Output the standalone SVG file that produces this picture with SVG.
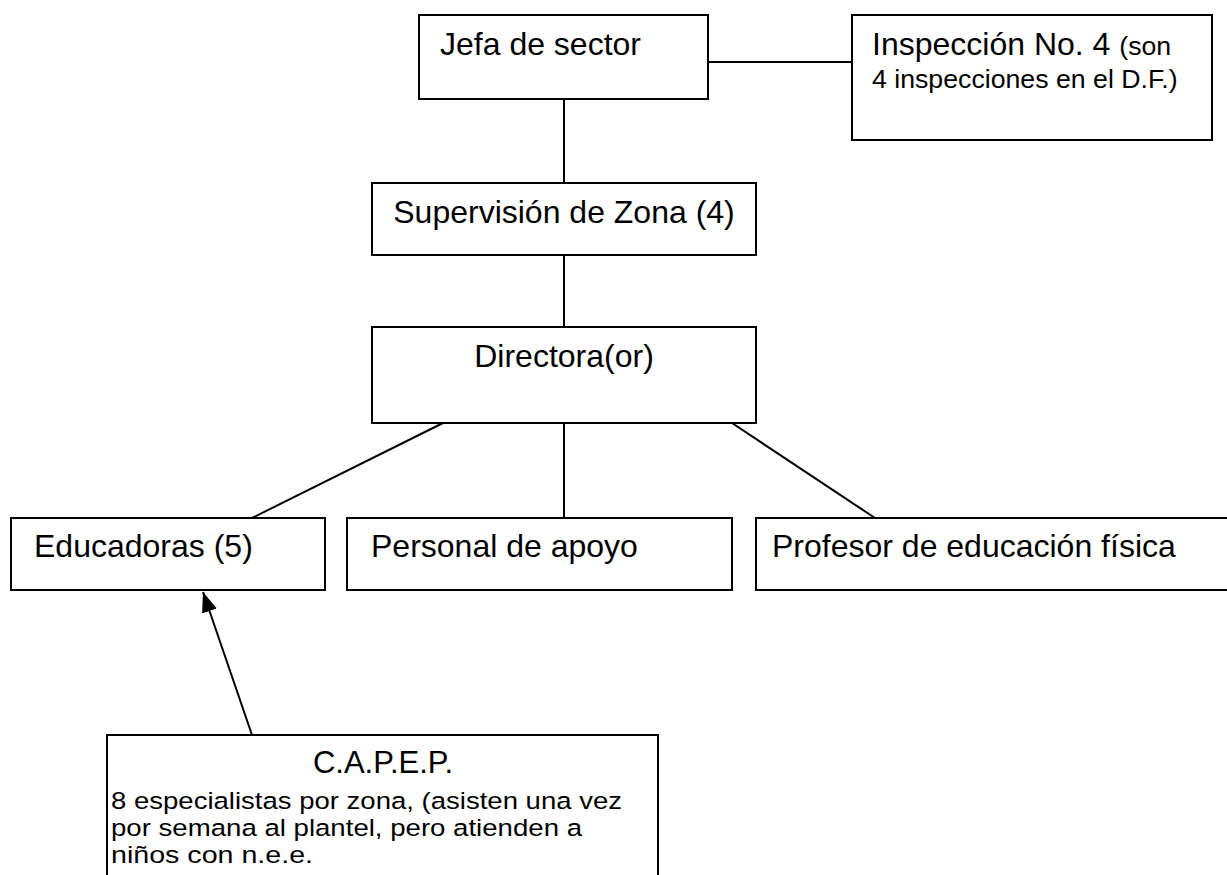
<svg xmlns="http://www.w3.org/2000/svg" width="1227" height="875" viewBox="0 0 1227 875">
<defs>
<style>
.box{fill:#fff;stroke:#000;stroke-width:2}
.ln{stroke:#000;stroke-width:2;fill:none}
.t{font-family:"Liberation Sans",Arial,sans-serif;font-size:32px;fill:#000}
.s{font-family:"Liberation Sans",Arial,sans-serif;font-size:26.7px;fill:#000}
.b{font-family:"Liberation Sans",Arial,sans-serif;font-size:24.5px;fill:#000}
</style>
<marker id="ah" markerUnits="userSpaceOnUse" markerWidth="20" markerHeight="16" viewBox="0 0 18 14" refX="18" refY="7" orient="auto">
<path d="M0,0 L18,7 L0,14 Z" fill="#000"/>
</marker>
</defs>
<rect width="1227" height="875" fill="#fff"/>
<g id="connectors">
<line class="ln" x1="708" y1="62" x2="852" y2="62"/>
<line class="ln" x1="564" y1="99" x2="564" y2="183"/>
<line class="ln" x1="564" y1="255" x2="564" y2="327"/>
<line class="ln" x1="443" y1="423" x2="252" y2="518"/>
<line class="ln" x1="564" y1="423" x2="564" y2="518"/>
<line class="ln" x1="732" y1="423" x2="875" y2="518"/>
<line class="ln" x1="252" y1="735" x2="203" y2="592" marker-end="url(#ah)"/>
</g>
<g id="jefa">
<rect class="box" x="419" y="15" width="289" height="84"/>
<text class="t" x="440" y="55">Jefa de sector</text>
</g>
<g id="inspeccion">
<rect class="box" x="852" y="15" width="360" height="125"/>
<text class="t" x="872" y="55">Inspección No. 4 <tspan class="s">(son</tspan></text>
<text class="s" x="872" y="88">4 inspecciones en el D.F.)</text>
</g>
<g id="supervision">
<rect class="box" x="372" y="183" width="384" height="72"/>
<text class="t" x="564" y="223" text-anchor="middle">Supervisión de Zona (4)</text>
</g>
<g id="directora">
<rect class="box" x="372" y="327" width="384" height="96"/>
<text class="t" x="564" y="367" text-anchor="middle">Directora(or)</text>
</g>
<g id="educadoras">
<rect class="box" x="11" y="518" width="314" height="72"/>
<text class="t" x="34" y="557">Educadoras (5)</text>
</g>
<g id="personal">
<rect class="box" x="347" y="518" width="385" height="72"/>
<text class="t" x="371" y="557">Personal de apoyo</text>
</g>
<g id="profesor">
<rect class="box" x="756" y="518" width="480" height="72"/>
<text class="t" x="772" y="557">Profesor de educación física</text>
</g>
<g id="capep">
<rect class="box" x="107" y="735" width="551" height="150"/>
<text class="t" x="383" y="773" text-anchor="middle" style="font-size:31px">C.A.P.E.P.</text>
<text class="b" x="111" y="809" textLength="511" lengthAdjust="spacingAndGlyphs">8 especialistas por zona, (asisten una vez</text>
<text class="b" x="111" y="836" textLength="471" lengthAdjust="spacingAndGlyphs">por semana al plantel, pero atienden a</text>
<text class="b" x="111" y="863" textLength="202" lengthAdjust="spacingAndGlyphs">niños con n.e.e.</text>
</g>
</svg>
